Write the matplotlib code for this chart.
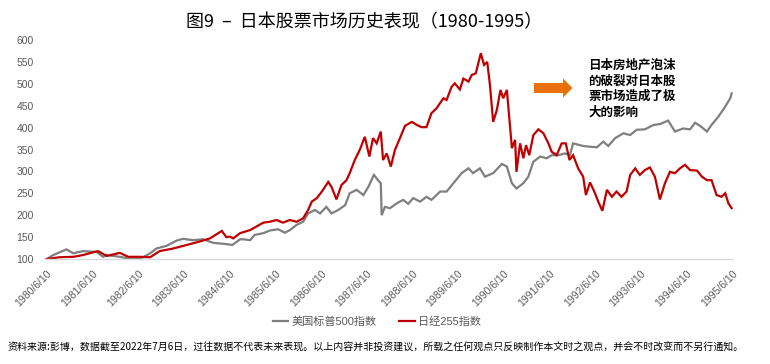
import matplotlib
matplotlib.use("Agg")
import matplotlib.pyplot as plt
from matplotlib.patches import Polygon

# ---------------- data (decimal years, index 1980/6/10 = 100) ----------------
spx_years = [1980.44, 1980.58, 1980.87, 1981.02, 1981.23, 1981.53, 1981.67, 1981.75,
             1982.04, 1982.22, 1982.48, 1982.70, 1982.84, 1983.06, 1983.28, 1983.42,
             1983.64, 1983.86, 1984.08, 1984.37, 1984.50, 1984.67, 1984.74, 1984.89,
             1984.99, 1985.18, 1985.32, 1985.50, 1985.65, 1985.76, 1985.91, 1986.05,
             1986.16, 1986.31, 1986.42, 1986.56, 1986.67, 1986.82, 1986.97, 1987.07,
             1987.22, 1987.37, 1987.48, 1987.60, 1987.69, 1987.75, 1987.77, 1987.84,
             1987.95, 1988.10, 1988.24, 1988.35, 1988.46, 1988.61, 1988.75, 1988.86,
             1989.05, 1989.19, 1989.34, 1989.52, 1989.67, 1989.77, 1989.92, 1990.03,
             1990.21, 1990.40, 1990.51, 1990.62, 1990.72, 1990.87, 1990.98, 1991.09,
             1991.24, 1991.38, 1991.49, 1991.64, 1991.78, 1991.89, 1991.96, 1992.18,
             1992.37, 1992.48, 1992.62, 1992.73, 1992.88, 1993.06, 1993.21, 1993.35,
             1993.53, 1993.72, 1993.86, 1994.04, 1994.19, 1994.37, 1994.52, 1994.63,
             1994.74, 1994.89, 1994.99, 1995.14, 1995.29, 1995.40, 1995.43]
spx_values = [100, 109, 122, 113, 118, 116, 105, 109,
              105, 101, 100, 113, 124, 130, 142, 146,
              143, 145, 137, 134, 132, 145, 145, 143,
              155, 159, 165, 168, 160, 166, 178, 185,
              204, 212, 204, 219, 204, 212, 223, 250,
              258, 246, 265, 292, 280, 273, 200, 219,
              216, 227, 235, 226, 239, 231, 242, 235,
              254, 254, 273, 296, 307, 296, 307, 288,
              296, 317, 311, 273, 261, 273, 288, 322,
              334, 330, 337, 337, 341, 337, 364, 358,
              356, 355, 368, 358, 376, 387, 383, 395,
              396, 406, 408, 416, 391, 398, 396, 411,
              404, 391, 406, 425, 448, 467, 478]

nky_years = [1980.44, 1980.72, 1981.02, 1981.23, 1981.56, 1981.75, 1982.04, 1982.22,
             1982.48, 1982.70, 1982.91, 1983.21, 1983.50, 1983.79, 1984.01, 1984.27,
             1984.37, 1984.45, 1984.52, 1984.67, 1984.89, 1985.18, 1985.32, 1985.47,
             1985.61, 1985.76, 1985.91, 1986.05, 1986.16, 1986.24, 1986.35, 1986.46,
             1986.60, 1986.67, 1986.78, 1986.89, 1987.00, 1987.07, 1987.18, 1987.29,
             1987.40, 1987.50, 1987.58, 1987.66, 1987.75, 1987.80, 1987.88, 1987.97,
             1988.06, 1988.17, 1988.28, 1988.43, 1988.54, 1988.64, 1988.75, 1988.86,
             1988.97, 1989.12, 1989.19, 1989.30, 1989.37, 1989.48, 1989.56, 1989.67,
             1989.74, 1989.83, 1989.94, 1990.01, 1990.08, 1990.14, 1990.21, 1990.29,
             1990.37, 1990.43, 1990.51, 1990.58, 1990.62, 1990.69, 1990.72, 1990.80,
             1990.87, 1990.93, 1991.00, 1991.09, 1991.20, 1991.31, 1991.42, 1991.49,
             1991.60, 1991.71, 1991.80, 1991.88, 1991.96, 1992.07, 1992.18, 1992.24,
             1992.33, 1992.44, 1992.51, 1992.60, 1992.70, 1992.81, 1992.91, 1993.02,
             1993.13, 1993.21, 1993.32, 1993.42, 1993.53, 1993.64, 1993.75, 1993.86,
             1993.97, 1994.08, 1994.19, 1994.30, 1994.41, 1994.52, 1994.67, 1994.78,
             1994.89, 1994.99, 1995.10, 1995.21, 1995.29, 1995.36, 1995.43]
nky_values = [100, 104, 105, 109, 118, 107, 114, 105,
              105, 104, 118, 124, 132, 140, 147, 164,
              150, 151, 147, 159, 166, 183, 185, 189,
              183, 189, 185, 193, 212, 231, 239, 254,
              276, 265, 236, 269, 280, 296, 326, 349,
              379, 334, 376, 364, 391, 326, 341, 311,
              349, 376, 404, 413, 406, 401, 401, 433,
              444, 467, 463, 493, 501, 487, 512, 505,
              520, 524, 570, 543, 550, 497, 413, 440,
              486, 467, 486, 402, 353, 372, 299, 364,
              330, 360, 337, 383, 396, 387, 364, 345,
              337, 364, 364, 326, 337, 307, 288, 246,
              275, 250, 231, 210, 258, 242, 254, 242,
              254, 292, 307, 292, 303, 309, 288, 236,
              273, 299, 296, 307, 315, 303, 302, 288,
              280, 280, 246, 242, 250, 227, 216]

tick_years = [1980.44 + i for i in range(16)]
tick_labels = [f"{1980 + i}/6/10" for i in range(16)]
y_ticks = [100, 150, 200, 250, 300, 350, 400, 450, 500, 550, 600]

series_names = ["美国标普500指数", "日经255指数"]
title = "图9  –  日本股票市场历史表现（1980-1995）"
note = "日本房地产泡沫\n的破裂对日本股\n票市场造成了极\n大的影响"
source = ("资料来源:彭博，数据截至2022年7月6日，过往数据不代表未来表现。"
          "以上内容并非投资建议，所载之任何观点只反映制作本文时之观点，并会不时改变而不另行通知。")

# ---------------- figure ----------------
W, H = 770, 364
fig = plt.figure(figsize=(W / 100, H / 100), dpi=100)
ax = fig.add_axes([45 / W, 1 - 259 / H, (733 - 45) / W, (259 - 40) / H])

CJK = ["Noto Sans CJK SC", "DejaVu Sans"]
LAT = ["Liberation Sans", "Noto Sans CJK SC"]
tick_color = "#595959"

ax.plot(spx_years, spx_values, color="#7f7f7f", lw=1.6, label=series_names[0],
        solid_joinstyle="miter", clip_on=True)
ax.plot(nky_years, nky_values, color="#c00000", lw=1.6, label=series_names[1],
        solid_joinstyle="miter", clip_on=True)

ax.set_xlim(1980.40, 1995.46)
ax.set_ylim(100, 600)
ax.set_yticks(y_ticks)
ax.set_yticklabels([str(v) for v in y_ticks], family=LAT, fontsize=7.5, color=tick_color)
ax.set_xticks(tick_years)
ax.set_xticklabels(tick_labels, rotation=45, ha="right", rotation_mode="anchor",
                   family=LAT, fontsize=7.5, color=tick_color)
ax.tick_params(axis="both", length=0)
ax.tick_params(axis="y", pad=8)
ax.tick_params(axis="x", pad=7)
for s in ["top", "right", "left"]:
    ax.spines[s].set_visible(False)
ax.spines["bottom"].set_color("#d9d9d9")
ax.spines["bottom"].set_linewidth(1.0)

# title
fig.text(364 / W, 1 - 22 / H, title, ha="center", va="center", family=CJK,
         fontsize=13, color="#000000")

# annotation text
fig.text(588 / W, 1 - 59 / H, note, ha="left", va="top", family=CJK,
         fontsize=9, fontweight="bold", color="#000000", linespacing=1.25)

# orange arrow (figure pixel coordinates -> fractions)
pts_px = [(534, 83), (563, 83), (563, 78.5), (572.5, 88), (563, 97.5), (563, 93), (534, 93)]
pts = [(x / W, 1 - y / H) for x, y in pts_px]
fig.patches.append(Polygon(pts, closed=True, transform=fig.transFigure,
                           facecolor="#e8700a", edgecolor="none"))

# legend
leg = fig.legend(loc="center", bbox_to_anchor=(377 / W, 1 - 322 / H), ncol=2,
                 frameon=False, handlelength=1.4, handletextpad=0.3,
                 columnspacing=2.0, prop={"family": LAT, "size": 8})
for t in leg.get_texts():
    t.set_color(tick_color)

# source note
fig.text(8 / W, 1 - 348 / H, source, ha="left", va="center", family=CJK,
         fontsize=7.2, color="#000000")

fig.savefig("out.png", dpi=100)
